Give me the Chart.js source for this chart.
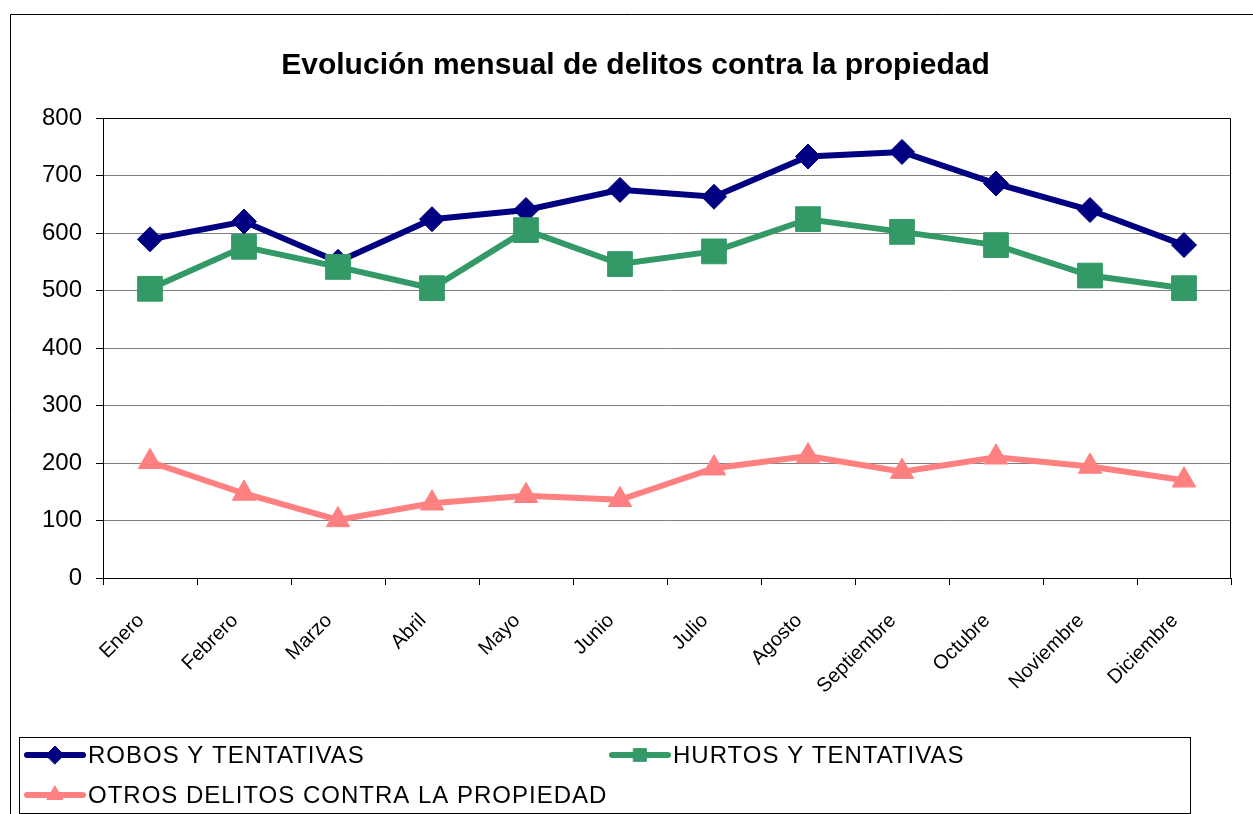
<!DOCTYPE html>
<html>
<head>
<meta charset="utf-8">
<script src="https://cdn.jsdelivr.net/npm/chart.js@4/dist/chart.umd.min.js"></script>
<style>
html, body { margin: 0; padding: 0; background: #fff; }
</style>
</head>
<body>
<canvas id="chart" width="1253" height="814"></canvas>
<script>
var months = ['Enero', 'Febrero', 'Marzo', 'Abril', 'Mayo', 'Junio', 'Julio', 'Agosto', 'Septiembre', 'Octubre', 'Noviembre', 'Diciembre'];
var seriesNames = ['ROBOS Y TENTATIVAS', 'HURTOS Y TENTATIVAS', 'OTROS DELITOS CONTRA LA PROPIEDAD'];
var robos  = [589, 620, 550, 624, 640, 675, 663, 733, 741, 686, 640, 579];
var hurtos = [503, 576, 541, 504, 605, 546, 568, 624, 602, 579, 526, 504];
var otros  = [202, 147, 101, 130, 143, 136, 191, 212, 185, 210, 194, 170];
var yMin = 0, yMax = 800, yStep = 100;

var FONT = '"Liberation Sans", Arial, sans-serif';

// white page, outer frame and plot border
var frame = {
    id: 'frame',
    beforeDraw: function( chart ) {
        var ctx = chart.ctx;
        ctx.save();
        ctx.fillStyle = '#fff';
        ctx.fillRect( 0, 0, chart.width, chart.height );
        ctx.strokeStyle = '#000';
        ctx.lineWidth = 1;
        ctx.beginPath();
        ctx.moveTo( 10.5, chart.height );
        ctx.lineTo( 10.5, 14.5 );
        ctx.lineTo( chart.width, 14.5 );
        ctx.stroke();
        ctx.restore();
    },
    beforeDatasetsDraw: function( chart ) {
        var a = chart.chartArea, ctx = chart.ctx;
        ctx.save();
        ctx.strokeStyle = '#000';
        ctx.lineWidth = 1;
        ctx.beginPath();
        ctx.moveTo( Math.round( a.left ) + 0.5, Math.round( a.top ) + 0.5 );
        ctx.lineTo( Math.round( a.right ) - 0.5, Math.round( a.top ) + 0.5 );
        ctx.lineTo( Math.round( a.right ) - 0.5, Math.round( a.bottom ) );
        ctx.stroke();
        ctx.restore();
    }
};

// Excel style legend: line + marker, boxed
var legendBox = {
    id: 'legendBox',
    afterDraw: function( chart ) {
        var ctx = chart.ctx;
        var spots = [ { x: 27, y: 755 }, { x: 612, y: 755 }, { x: 27, y: 795 } ];
        ctx.save();
        ctx.strokeStyle = '#000';
        ctx.lineWidth = 1;
        ctx.strokeRect( 19.5, 737.5, 1171, 76 );
        chart.data.datasets.forEach( function( ds, i ) {
            var p = spots[i];
            ctx.strokeStyle = ds.borderColor;
            ctx.lineWidth = 6;
            ctx.lineCap = 'round';
            ctx.beginPath();
            ctx.moveTo( p.x, p.y );
            ctx.lineTo( p.x + 56, p.y );
            ctx.stroke();
            ctx.fillStyle = ds.backgroundColor;
            ctx.lineWidth = 1;
            Chart.helpers.drawPoint( ctx, { pointStyle: ds.pointStyle, radius: 9, borderWidth: 1, rotation: 0 }, p.x + 28, p.y );
            ctx.fillStyle = '#000';
            ctx.font = '24px ' + FONT;
            ctx.letterSpacing = '1px';
            ctx.textBaseline = 'middle';
            ctx.textAlign = 'left';
            ctx.fillText( ds.label, p.x + 61, p.y + 1 );
        });
        ctx.restore();
    }
};

function makeDataset( label, values, color, style, radius, order )
{
    return {
        label: label,
        data: values,
        borderColor: color,
        backgroundColor: color,
        borderWidth: 6,
        pointStyle: style,
        pointRadius: radius,
        pointBorderWidth: 1,
        tension: 0,
        order: order
    };
}

var ctx = document.getElementById( 'chart' ).getContext( '2d' );
var chart = new Chart( ctx, {
    type: 'line',
    data: {
        labels: months,
        datasets: [
            makeDataset( seriesNames[0], robos, '#000080', 'rectRot', 12.5, 3 ),
            makeDataset( seriesNames[1], hurtos, '#339966', 'rect', 17.5, 2 ),
            makeDataset( seriesNames[2], otros, '#FF8080', 'triangle', 13.5, 1 )
        ]
    },
    options: {
        responsive: false,
        animation: false,
        events: [],
        layout: { padding: { left: 40, right: 22, top: 0, bottom: 0 } },
        plugins: {
            legend: { display: false },
            tooltip: { enabled: false },
            title: {
                display: true,
                text: 'Evolución mensual de delitos contra la propiedad',
                color: '#000',
                font: { family: FONT, size: 30, weight: 'bold' },
                padding: { top: 48, bottom: 34 }
            }
        },
        scales: {
            x: {
                offset: true,
                afterFit: function( scale ) { scale.height = 236; },
                grid: { offset: true, drawOnChartArea: false, drawTicks: true, tickLength: 7, tickColor: '#000' },
                border: { color: '#000', width: 1 },
                ticks: {
                    color: '#000',
                    font: { family: FONT, size: 20 },
                    minRotation: 45,
                    maxRotation: 45,
                    padding: 24,
                    labelOffset: -9,
                    autoSkip: false
                }
            },
            y: {
                min: yMin,
                max: yMax,
                afterFit: function( scale ) { scale.width = 63; },
                grid: {
                    color: function( c ) { return c.tick && c.tick.value === 0 ? 'rgba(0,0,0,0)' : '#808080'; },
                    tickLength: 7,
                    tickColor: '#000'
                },
                border: { color: '#000', width: 1 },
                ticks: {
                    stepSize: yStep,
                    color: '#000',
                    font: { family: FONT, size: 24 },
                    padding: 14
                }
            }
        }
    },
    plugins: [ frame, legendBox ]
});
</script>
</body>
</html>
